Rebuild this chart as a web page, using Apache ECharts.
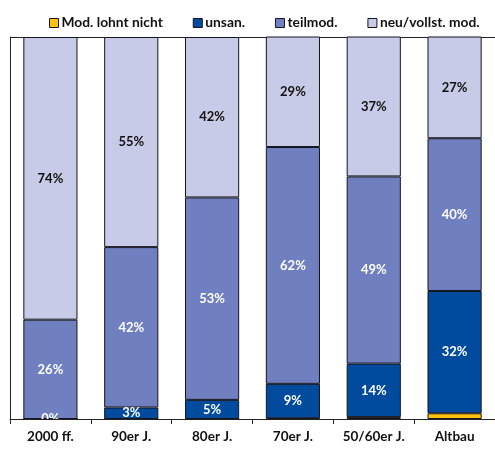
<!DOCTYPE html>
<html>
<head>
<meta charset="utf-8">
<script src="https://cdn.jsdelivr.net/npm/echarts@6/dist/echarts.min.js"></script>
<style>
  html, body { margin: 0; padding: 0; background: #fff; }
  #chart { width: 495px; height: 449px; }
</style>
</head>
<body>
<div id="chart"></div>
<script>
// Building age classes
var categories = ['2000 ff.', '90er J.', '80er J.', '70er J.', '50/60er J.', 'Altbau'];

// Share of buildings per modernisation state (%)
var modLohntNicht = [0, 0, 0, 0.2, 0.5, 1.5];
var unsaniert     = [0, 3, 5, 9, 14, 32];
var teilmod       = [26, 42, 53, 62, 49, 40];
var neuVollst     = [74, 55, 42, 29, 37, 27];

var seriesNames = ['Mod. lohnt nicht', 'unsan.', 'teilmod.', 'neu/vollst. mod.'];

var FONT = 'Lato';
var BORDER = '#15151f';

function bar(name, data, color, labelColor) {
  return {
    name: name,
    type: 'bar',
    stack: 'total',
    data: data,
    barWidth: '67%',
    itemStyle: { color: color, borderColor: BORDER, borderWidth: 1 },
    label: labelColor ? {
      show: true,
      position: 'inside',
      color: labelColor,
      fontFamily: FONT,
      fontWeight: 'bold',
      fontSize: 13,
      formatter: function (p) { return p.value + '%'; }
    } : { show: false },
    emphasis: { disabled: true }
  };
}

var chart = echarts.init(document.getElementById('chart'), null, { renderer: 'canvas' });
chart.setOption({
  animation: false,
  legend: {
    top: 11,
    left: 44,
    itemWidth: 9,
    itemHeight: 9,
    itemGap: 30,
    icon: 'rect',
    itemStyle: { borderColor: BORDER, borderWidth: 1 },
    textStyle: { fontFamily: FONT, fontWeight: 'bold', fontSize: 13.8, color: '#111', padding: [0, 0, 0, -2] },
    data: seriesNames
  },
  grid: { left: 10, right: -3, top: 37, bottom: 30 },
  xAxis: {
    type: 'category',
    data: categories,
    z: 10,
    axisLine: { lineStyle: { color: '#222', width: 1 } },
    axisTick: { show: true, length: 5, lineStyle: { color: '#222' } },
    axisLabel: { fontFamily: FONT, fontWeight: 'bold', fontSize: 13.5, color: '#111', margin: 11 }
  },
  yAxis: {
    type: 'value',
    min: 0,
    max: 100,
    interval: 100,
    axisLine: { show: true, lineStyle: { color: '#222', width: 1 } },
    axisTick: { show: false },
    axisLabel: { show: false },
    splitLine: { show: true, lineStyle: { color: '#222', width: 1 } }
  },
  series: [
    bar(seriesNames[0], modLohntNicht, '#FFC20E', null),
    bar(seriesNames[1], unsaniert, '#004B9E', '#ffffff'),
    bar(seriesNames[2], teilmod, '#6F7FBF', '#ffffff'),
    bar(seriesNames[3], neuVollst, '#C8CBE7', '#111111')
  ]
});
</script>
</body>
</html>
